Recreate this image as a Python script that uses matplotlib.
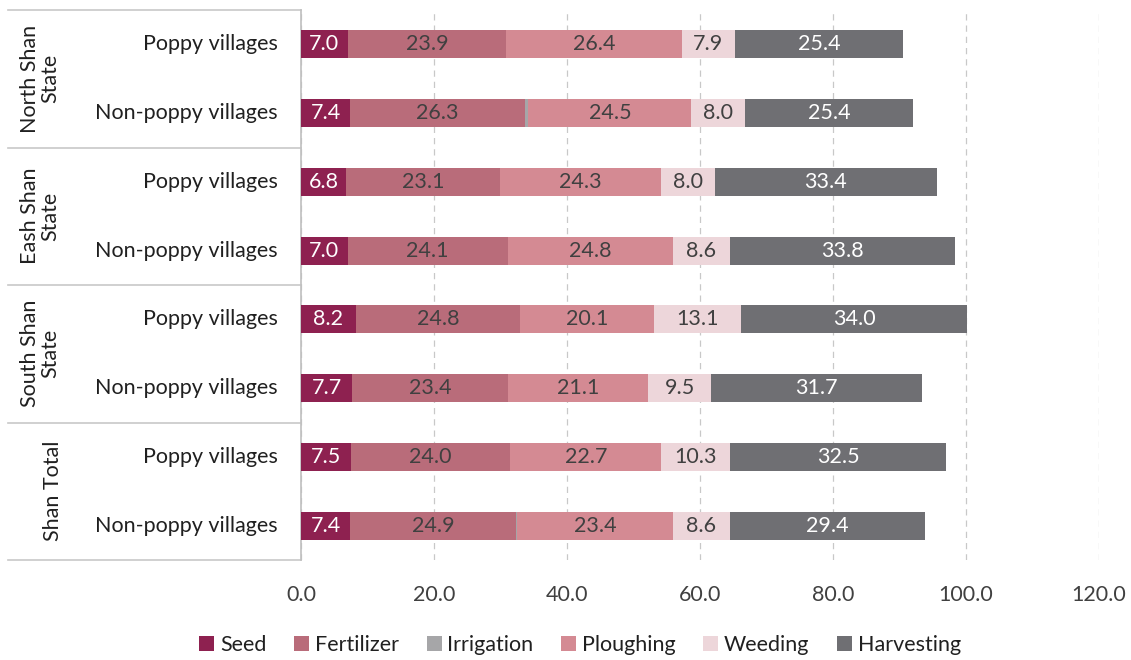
import matplotlib
matplotlib.use("Agg")
import matplotlib.pyplot as plt
import matplotlib.transforms as mtransforms
from matplotlib.patches import Patch

plt.rcParams['font.family'] = ['Lato', 'DejaVu Sans']

groups = ["North Shan\nState", "Eash Shan\nState", "South Shan\nState", "Shan Total"]
rows = ["Poppy villages", "Non-poppy villages"] * 4
series = ["Seed", "Fertilizer", "Irrigation", "Ploughing", "Weeding", "Harvesting"]

seed       = [7.0, 7.4, 6.8, 7.0, 8.2, 7.7, 7.5, 7.4]
fertilizer = [23.9, 26.3, 23.1, 24.1, 24.8, 23.4, 24.0, 24.9]
irrigation = [0.0, 0.5, 0.0, 0.0, 0.0, 0.0, 0.0, 0.2]
ploughing  = [26.4, 24.5, 24.3, 24.8, 20.1, 21.1, 22.7, 23.4]
weeding    = [7.9, 8.0, 8.0, 8.6, 13.1, 9.5, 10.3, 8.6]
harvesting = [25.4, 25.4, 33.4, 33.8, 34.0, 31.7, 32.5, 29.4]
xticks = [0, 20, 40, 60, 80, 100, 120]

values = [seed, fertilizer, irrigation, ploughing, weeding, harvesting]
colors = ["#8E2150", "#B96C7A", "#A6A6A8", "#D48A93", "#EDD6DA", "#6F6F73"]
txtcolors = ["white", "#404040", "#404040", "#404040", "#404040", "white"]

FS = 15.5

fig = plt.figure(figsize=(11.31, 6.6), dpi=100)
ax = fig.add_axes([301/1131, 100/660, 798/1131, 550/660])

ypos = list(range(len(rows)))
left = [0.0] * len(rows)
for vals, col, tc in zip(values, colors, txtcolors):
    ax.barh(ypos, vals, left=left, height=0.41, color=col, edgecolor='none', zorder=3)
    for y, v, l in zip(ypos, vals, left):
        if v >= 1:
            ax.text(l + v / 2, y, f"{v:.1f}", ha='center', va='center', color=tc,
                    fontsize=FS, zorder=4)
    left = [a + b for a, b in zip(left, vals)]

ax.set_xlim(0, 120)
ax.set_ylim(7.5, -0.5)
ax.set_xticks(xticks)
ax.set_xticklabels([f"{t:.1f}" for t in xticks], fontsize=FS, color='#404040')
ax.tick_params(axis='x', length=0, pad=18)
ax.set_yticks([])
for s in ['top', 'right', 'bottom']:
    ax.spines[s].set_visible(False)
ax.spines['left'].set_color('#BFBFBF')
ax.spines['left'].set_linewidth(1.2)
ax.grid(axis='x', color='#C8C8C8', linestyle=(0, (5, 4)), linewidth=0.9, zorder=0)

trans = mtransforms.blended_transform_factory(ax.transAxes, ax.transData)
x_left = (8 - 301) / 798
for b in [-0.5, 1.5, 3.5, 5.5, 7.5]:
    ax.plot([x_left, 0], [b, b], transform=trans, color='#C8C8C8', linewidth=1.2, clip_on=False)

for y, r in zip(ypos, rows):
    ax.text((278 - 301) / 798, y, r, transform=trans, ha='right', va='center',
            fontsize=FS, color='#202020')

group_x = [40, 40, 40, 53]
for i, (g, gx) in enumerate(zip(groups, group_x)):
    ax.text((gx - 301) / 798, 2 * i + 0.5, g, transform=trans, ha='center', va='center',
            rotation=90, fontsize=FS, color='#202020', multialignment='center',
            linespacing=1.0)

handles = [Patch(facecolor=c, edgecolor='none') for c in colors]
fig.legend(handles, series, loc='center', bbox_to_anchor=(580/1131, 1 - 645/660), ncol=6,
           frameon=False, fontsize=FS, handlelength=0.7, handleheight=0.7,
           handletextpad=0.25, columnspacing=1.3, labelcolor='#202020')

fig.savefig("out.png", dpi=100)
